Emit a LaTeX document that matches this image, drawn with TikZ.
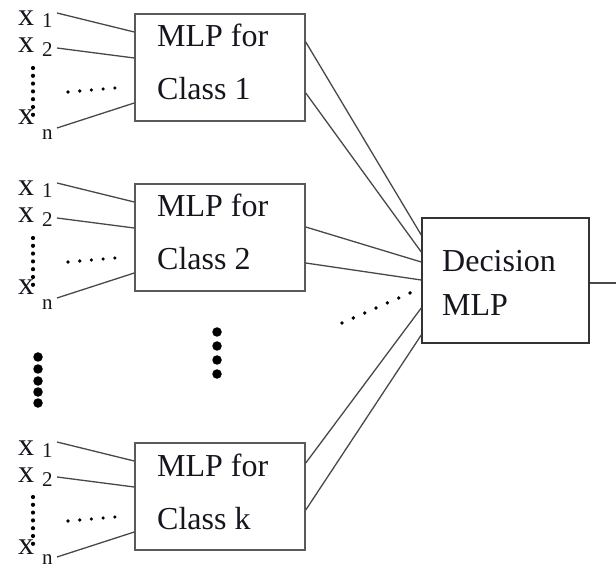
\documentclass[tikz,border=0pt]{standalone}
\usepackage{fontspec}
\setmainfont{Liberation Serif}
\definecolor{textcol}{HTML}{15151E}
\definecolor{linegray}{HTML}{484848}
\definecolor{boxgray}{HTML}{5A5A5A}
\definecolor{decgray}{HTML}{333333}
\begin{document}
\begin{tikzpicture}[x=1pt,y=-1pt]
\tikzset{
 mlpbox/.style={draw=boxgray, line width=1.5pt, inner sep=0pt, rectangle},
 conn/.style={draw=linegray, line width=1.3pt},
 lbl/.style={anchor=base west, inner sep=0pt, font=\fontsize{32}{38}\selectfont, text=textcol},
 sublbl/.style={anchor=base west, inner sep=0pt, font=\fontsize{21}{23}\selectfont, text=textcol},
 dotline/.style={line width=4.2pt, line cap=round, dash pattern=on 0pt off #1},
 bigdot/.style={fill=black, draw=none, circle, minimum size=9.5pt, inner sep=0pt},
}
\useasboundingbox (0,0) rectangle (616,569);

\foreach \g/\off/\nb in {1/0/140, 2/170/140, k/429/135}{
 \begin{scope}[yshift=-\off pt]
  \node[mlpbox, minimum width=170pt, minimum height=107pt] (box\g) at (220,67.5) {};
  \node[lbl] (mlp\g) at (157,47) {MLP for};
  \node[lbl] (cls\g) at (157,100) {Class \g};
  \node[lbl] (xa\g) at (18,26) {x};
  \node[sublbl] (sa\g) at (42,28) {1};
  \node[lbl] (xb\g) at (18,53) {x};
  \node[sublbl] (sb\g) at (42,57) {2};
  \node[lbl] (xn\g) at (18,125) {x};
  \node[sublbl] (sn\g) at (42,\nb) {n};
  \coordinate (ia\g) at (57,13);
  \coordinate (ib\g) at (57,48);
  \coordinate (in\g) at (57,128);
  \draw[conn] (ia\g) -- (box\g.west |- 0,32);
  \draw[conn] (ib\g) -- (box\g.west |- 0,58);
  \draw[conn] (in\g) -- (box\g.west |- 0,103);
  \coordinate (vt\g) at (33,68);
  \coordinate (vb\g) at (33,115);
  \draw[dotline=7.8pt] (vt\g) -- (vb\g);
  \coordinate (hl\g) at (68,92);
  \coordinate (hr\g) at (115,88);
  \draw[dotline=11.75pt, line width=3.6pt] (hl\g) -- (hr\g);
 \end{scope}
}

\node[mlpbox, draw=decgray, minimum width=167pt, minimum height=125pt] (dec) at (505.5,280.5) {};
\node[lbl] (dtxt1) at (442,272) {Decision};
\node[lbl] (dtxt2) at (442,316) {MLP};

\draw[conn] (box1.east |- 0,42) -- (dec.west |- 0,235);
\draw[conn] (box1.east |- 0,93) -- (dec.west |- 0,252);
\draw[conn] (box2.east |- 0,227) -- (dec.west |- 0,262);
\draw[conn] (box2.east |- 0,263) -- (dec.west |- 0,280);
\draw[conn] (boxk.east |- 0,463) -- (dec.west |- 0,308);
\draw[conn] (boxk.east |- 0,510) -- (dec.west |- 0,335);
\coordinate (dotstart) at (342,323);
\draw[dotline=12.4pt, line width=3.8pt] (dotstart) -- (dec.west |- 0,288);
\coordinate (outend) at (616,283);
\draw[conn] (dec.east |- 0,283) -- (outend);

\foreach \y [count=\i] in {332,346,360,374}{
 \node[bigdot] (md\i) at (217,\y) {};
}
\foreach \y [count=\i] in {357,369,381,392,403}{
 \node[bigdot] (ld\i) at (38,\y) {};
}
\end{tikzpicture}
\end{document}
